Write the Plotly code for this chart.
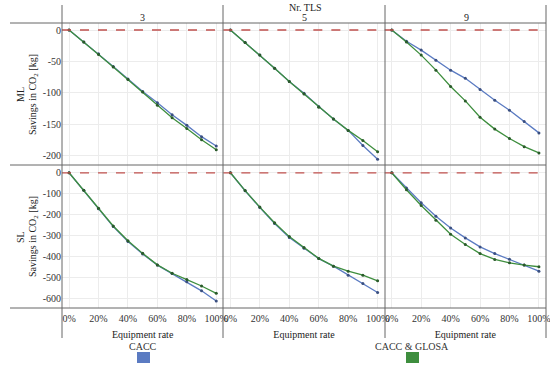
import plotly.graph_objects as go
from plotly.subplots import make_subplots

# ---------------- data ----------------
rate = [0, 10, 20, 30, 40, 50, 60, 70, 80, 90, 100]
tls_labels = ["3", "5", "9"]
row_labels = ["ML", "SL"]
series_names = ["CACC", "CACC & GLOSA"]

ml_3_cacc = [0, -19, -38, -58, -78, -98, -116, -135, -152, -170, -185]
ml_3_glosa = [0, -19, -39, -59, -79, -99, -120, -140, -157, -175, -191]
ml_5_cacc = [0, -20, -40, -61, -82, -101, -122, -142, -160, -184, -206]
ml_5_glosa = [0, -20, -40, -61, -82, -102, -123, -142, -160, -176, -194]
ml_9_cacc = [0, -18, -32, -48, -64, -77, -95, -112, -128, -146, -164]
ml_9_glosa = [0, -19, -40, -64, -90, -113, -139, -158, -173, -186, -196]

sl_3_cacc = [0, -84, -172, -257, -328, -388, -441, -481, -521, -564, -613]
sl_3_glosa = [0, -83, -170, -254, -325, -385, -440, -480, -510, -541, -576]
sl_5_cacc = [0, -86, -166, -242, -309, -360, -410, -446, -489, -529, -572]
sl_5_glosa = [0, -85, -164, -239, -305, -357, -409, -446, -470, -489, -516]
sl_9_cacc = [0, -73, -143, -208, -264, -311, -354, -386, -413, -441, -470]
sl_9_glosa = [0, -81, -156, -227, -294, -343, -386, -414, -430, -441, -449]

ml_ticks = [0, -50, -100, -150, -200]
sl_ticks = [0, -100, -200, -300, -400, -500, -600]
x_ticks = [0, 20, 40, 60, 80, 100]

data = {
    (1, 1): (ml_3_cacc, ml_3_glosa), (1, 2): (ml_5_cacc, ml_5_glosa), (1, 3): (ml_9_cacc, ml_9_glosa),
    (2, 1): (sl_3_cacc, sl_3_glosa), (2, 2): (sl_5_cacc, sl_5_glosa), (2, 3): (sl_9_cacc, sl_9_glosa),
}

# ---------------- style ----------------
FONT = "Liberation Serif, Times New Roman, serif"
BLUE = "#5b7bc2"
GREEN = "#3e8e3e"
BLUE_M = "#3a4f80"
GREEN_M = "#2a5a2a"
RED = "#c0504d"
GRID = "#ececec"
FRAME = "#666666"

W, H = 550, 367
ML_, MR_, MT_, MB_ = 62, 4, 23, 59
PW, PH = W - ML_ - MR_, H - MT_ - MB_


def px(x):
    return (x - ML_) / PW


def py(y):
    return 1 - (y - MT_) / PH


fig = make_subplots(rows=2, cols=3, horizontal_spacing=0, vertical_spacing=0,
                    shared_xaxes=True, shared_yaxes=True)

for (r, c), (cacc, glosa) in data.items():
    fig.add_trace(go.Scatter(x=rate, y=cacc, mode="lines+markers", name=series_names[0],
                             line=dict(color=BLUE, width=1.3),
                             marker=dict(color=BLUE_M, size=3), showlegend=False), row=r, col=c)
    fig.add_trace(go.Scatter(x=rate, y=glosa, mode="lines+markers", name=series_names[1],
                             line=dict(color=GREEN, width=1.3),
                             marker=dict(color=GREEN_M, size=3), showlegend=False), row=r, col=c)
    fig.add_hline(y=0, line=dict(color=RED, width=1.3, dash="dash"), row=r, col=c)

for r in (1, 2):
    for c in (1, 2, 3):
        fig.update_xaxes(range=[-4.8, 104.8], tickvals=x_ticks,
                         ticktext=[f"{v}%" for v in x_ticks], automargin=False,
                         ticklabeloverflow="allow", ticklabelstandoff=3,
                         showticklabels=(r == 2), showgrid=True, gridcolor=GRID, gridwidth=1,
                         zeroline=False, showline=False, ticks="",
                         tickfont=dict(family=FONT, size=10, color="#333"),
                         row=r, col=c)
        if r == 2:
            fig.update_xaxes(title=dict(text="Equipment rate", standoff=7,
                                        font=dict(family=FONT, size=10, color="#222")),
                             row=r, col=c)
        ticks = ml_ticks if r == 1 else sl_ticks
        rng = [-216, 11.2] if r == 1 else [-646, 34.8]
        fig.update_yaxes(range=rng, tickvals=ticks, ticktext=[str(t) for t in ticks],
                         automargin=False,
                         showticklabels=(c == 1), showgrid=True, gridcolor=GRID, gridwidth=1,
                         zeroline=False, showline=False, ticks="",
                         tickfont=dict(family=FONT, size=10, color="#333"),
                         row=r, col=c)

# frame lines (facet table)
shapes = []
for yy in (23, 165, 308):
    shapes.append(dict(type="line", xref="paper", yref="paper", x0=px(10), x1=px(546),
                       y0=py(yy), y1=py(yy), line=dict(color=FRAME, width=1)))
for xx in (62, 223, 385, 546):
    shapes.append(dict(type="line", xref="paper", yref="paper", x0=px(xx), x1=px(xx),
                       y0=py(5), y1=py(338), line=dict(color=FRAME, width=1)))
# legend swatches
shapes.append(dict(type="rect", xref="paper", yref="paper", x0=px(137), x1=px(150),
                   y0=py(363), y1=py(352), fillcolor=BLUE, line=dict(width=0)))
shapes.append(dict(type="rect", xref="paper", yref="paper", x0=px(406), x1=px(419),
                   y0=py(363), y1=py(352), fillcolor=GREEN, line=dict(width=0)))
fig.update_layout(shapes=list(fig.layout.shapes) + shapes)


def note(text, x, y, size=10, angle=0, color="#222"):
    return dict(text=text, x=px(x), y=py(y), xref="paper", yref="paper",
                xanchor="center", yanchor="middle", textangle=angle, showarrow=False,
                font=dict(family=FONT, size=size, color=color))


ann = [note("Nr. TLS", 305, 7, size=10)]
for xc, lab in zip((142, 304, 466), tls_labels):
    ann.append(note(lab, xc, 18))
for yc, lab in zip((95, 237), row_labels):
    ann.append(note(lab, 20, yc, angle=-90))
    ann.append(note("Savings in CO<sub>2</sub> [kg]", 33, yc, angle=-90))
for xc, lab in zip((143, 412), series_names):
    ann.append(note(lab, xc, 346, color="#333"))
fig.update_layout(annotations=ann)

fig.update_layout(width=W, height=H, margin=dict(l=ML_, r=MR_, t=MT_, b=MB_, autoexpand=False),
                  plot_bgcolor="white", paper_bgcolor="white",
                  font=dict(family=FONT, size=10), showlegend=False)

fig.write_html("out.html", config={"displayModeBar": False},
               post_script="document.body.style.margin='0';document.body.style.padding='0';")
